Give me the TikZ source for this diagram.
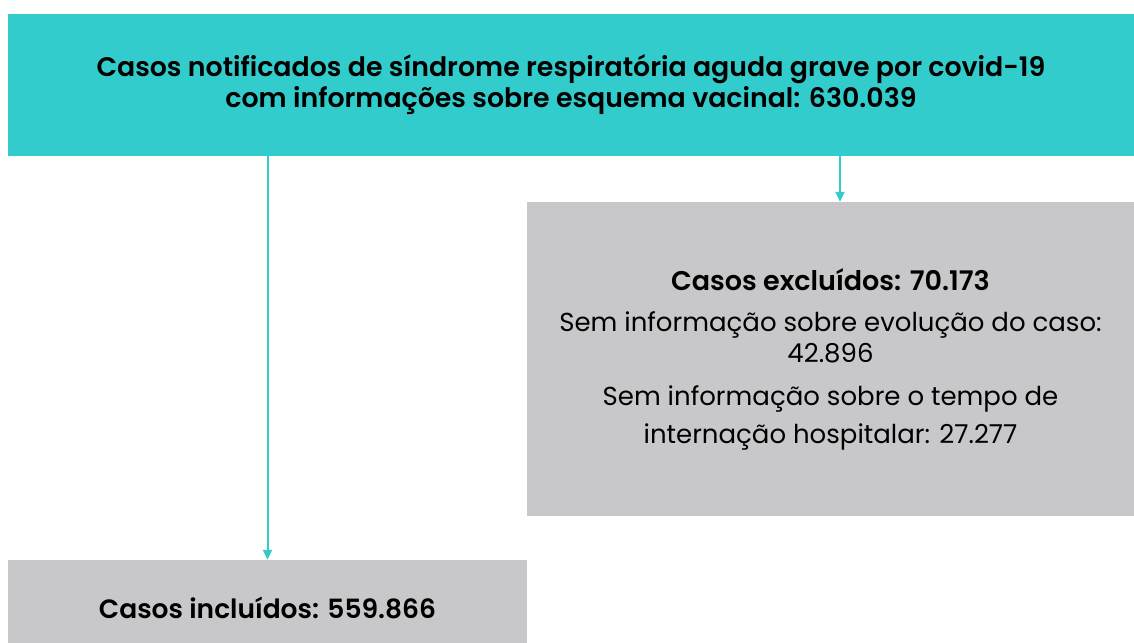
\documentclass[tikz,border=0pt]{standalone}
\usepackage{fontspec}
\setmainfont{Poppins}[BoldFont={Poppins SemiBold}]
\usetikzlibrary{arrows.meta}
\definecolor{tealbox}{RGB}{51,204,204}
\definecolor{greybox}{RGB}{200,200,202}
\begin{document}
\begin{tikzpicture}[x=1pt, y=-1pt, every node/.style={inner sep=0pt, align=center, font=\fontsize{26}{31}\selectfont},
    box/.style={draw=none, rectangle},
    arr/.style={-{Triangle[width=9pt,length=10pt]}, tealbox, line width=2pt}]
  \path[use as bounding box, clip] (0,0) rectangle (1134,642);
  \node[box, fill=tealbox, minimum width=1126pt, minimum height=142pt, font=\fontsize{26.8}{31}\selectfont] (top) at (571,85)
    {\textbf{Casos notificados de síndrome respiratória aguda grave por covid-19}\\
     \textbf{com informações sobre esquema vacinal: 630.039}};
  \node[box, fill=greybox, minimum width=607pt, minimum height=314pt] (excl) at (830.5,359)
    {\textbf{\fontsize{27}{31}\selectfont Casos excluídos: 70.173}\\[10pt]
     Sem informação sobre evolução do caso:\\42.896\\[12pt]
     Sem informação sobre o tempo de\\[7pt]internação hospitalar: 27.277};
  \node[box, fill=greybox, minimum width=519pt, minimum height=96pt, font=\fontsize{26.5}{31}\selectfont] (incl) at (267.5,608)
    {\textbf{Casos incluídos: 559.866}};
  \draw[arr] (top.south -| incl.north) -- (incl.north);
  \draw[arr] (top.south -| 840,0) -- (excl.north -| 840,0);
\end{tikzpicture}
\end{document}
